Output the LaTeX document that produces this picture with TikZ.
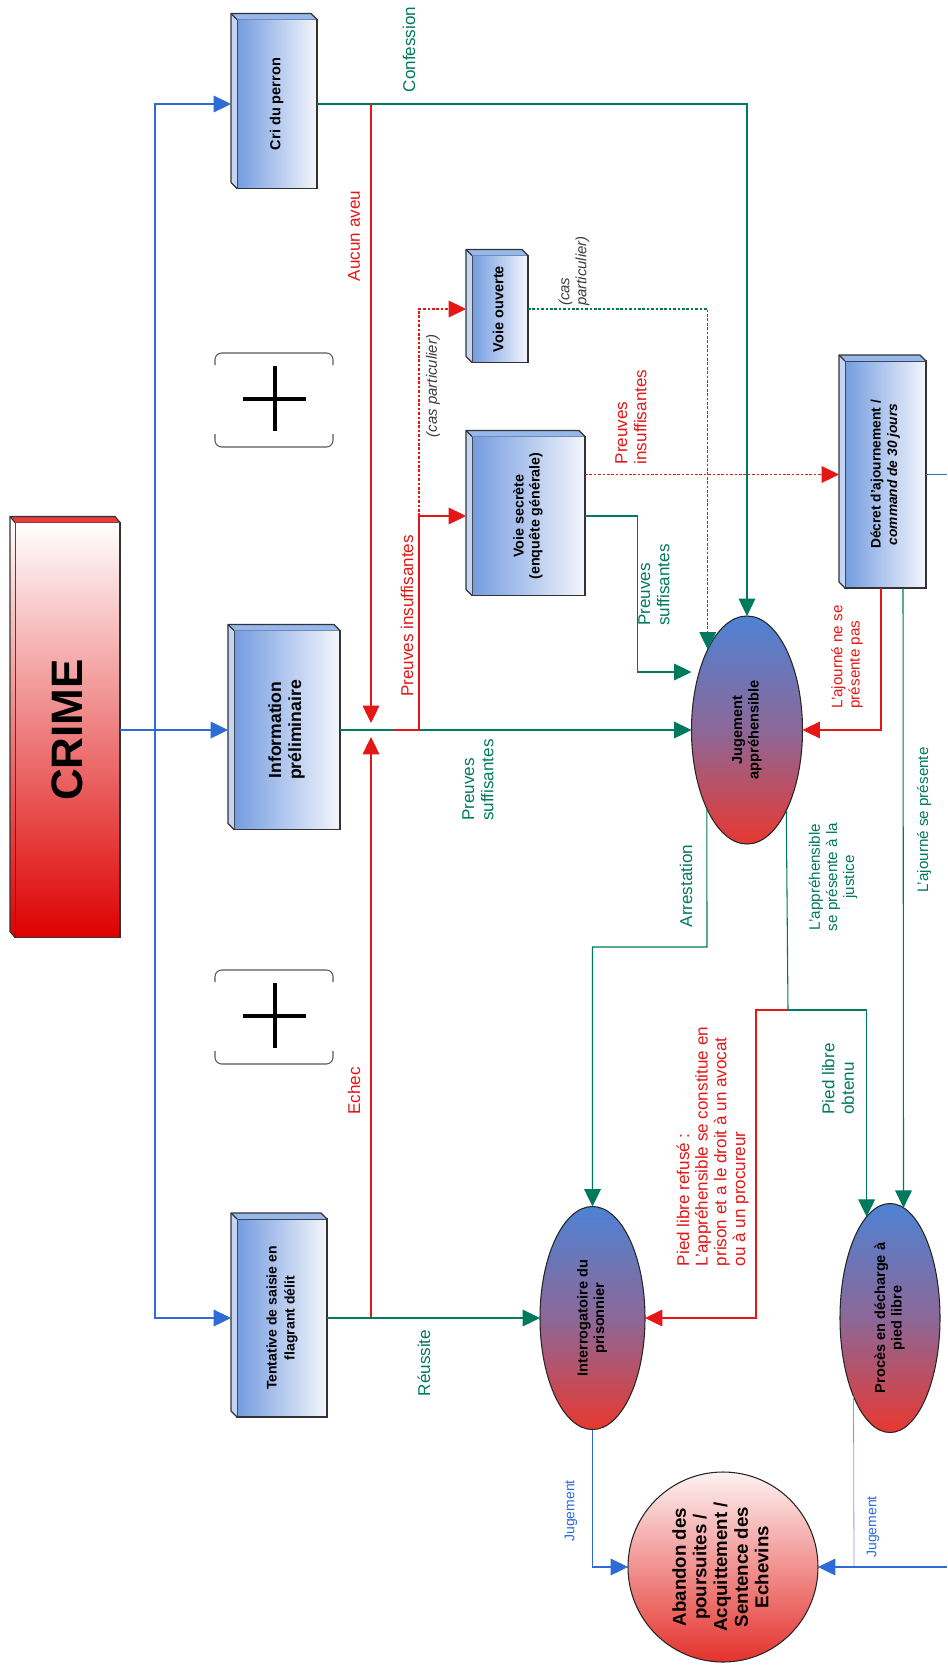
\documentclass[tikz,border=0pt]{standalone}
\usepackage{graphicx}
\usepackage{fontspec}
\setmainfont{Liberation Sans}
\usetikzlibrary{arrows.meta,shapes.geometric,calc}
\definecolor{cgreen}{RGB}{0,122,92}
\definecolor{cred}{RGB}{228,22,22}
\definecolor{cblue}{RGB}{45,108,212}
\definecolor{clblue}{RGB}{120,160,230}
\definecolor{cgray}{RGB}{60,60,60}
\definecolor{boxl}{RGB}{116,156,224}
\definecolor{boxr}{RGB}{244,246,252}
\definecolor{depthtop}{RGB}{150,184,236}
\definecolor{depthleft}{RGB}{196,214,244}
\definecolor{elltop}{RGB}{78,130,212}
\definecolor{ellmid}{RGB}{140,104,152}
\definecolor{ellbot}{RGB}{232,56,48}
\definecolor{crimered}{RGB}{222,0,0}
\definecolor{crimetop}{RGB}{230,60,60}
\definecolor{circtop}{RGB}{253,242,242}
\definecolor{circbot}{RGB}{228,50,45}

\newcommand{\rtext}[1]{\rotatebox{90}{\begin{tabular}{@{}c@{}}#1\end{tabular}}}
\newcommand{\boxdepth}[1]{%
  \fill[depthleft] (#1.south west) -- ++(-6,-6) -- ($(#1.north west)+(-6,-6)$) -- (#1.north west) -- cycle;
  \fill[depthtop] (#1.north west) -- ++(-6,-6) -- ($(#1.north east)+(-6,-6)$) -- (#1.north east) -- cycle;
  \draw[boxborder] (#1.south west) -- ++(-6,-6) -- ($(#1.north west)+(-6,-6)$) -- ($(#1.north east)+(-6,-6)$) -- (#1.north east);
  \draw[boxborder] (#1.north west) -- ++(-6,-6);
}

\tikzset{
  boxborder/.style={draw=black!80, line width=0.9pt, line join=round},
  pbox/.style={rectangle, draw=black!80, line width=0.9pt, left color=boxl, right color=boxr, inner sep=0pt, outer sep=0pt, font=\fontsize{10.9}{12.5}\selectfont\bfseries},
  crimebox/.style={rectangle, draw=black!80, line width=0.9pt, top color=white, bottom color=crimered, inner sep=0pt, outer sep=0pt, font=\fontsize{33}{33}\selectfont\bfseries},
  pell/.style={ellipse, draw=black!85, line width=0.8pt, top color=elltop, bottom color=ellbot, middle color=ellmid, inner sep=0pt, outer sep=0pt, font=\fontsize{10.9}{12.5}\selectfont\bfseries},
  pcirc/.style={circle, draw=black!85, line width=0.8pt, top color=circtop, bottom color=circbot, inner sep=0pt, outer sep=0pt, font=\fontsize{14}{15.5}\selectfont\bfseries},
  lab/.style={rotate=90, inner sep=0pt, align=left, font=\fontsize{12.8}{14.5}\selectfont},
  slab/.style={rotate=90, inner sep=0pt, align=left, font=\fontsize{11.4}{12.8}\selectfont},
  jlab/.style={rotate=90, inner sep=0pt, font=\fontsize{10.5}{12}\selectfont, text=cblue},
  clab/.style={rotate=90, inner sep=0pt, align=left, font=\fontsize{11.2}{12.8}\selectfont\itshape, text=cgray},
  gl/.style={draw=cgreen, line width=0.8pt},
  rl/.style={draw=cred, line width=0.8pt},
  bl/.style={draw=cblue, line width=0.8pt},
  arr/.style={-{Triangle[length=13pt,width=12.5pt]}},
  dsh/.style={dash pattern=on 2pt off 1.3pt},
  brk/.style={draw=black!65, line width=0.8pt, rounded corners=5pt},
  plusbar/.style={draw=black, line width=3pt},
}

\begin{document}
\begin{tikzpicture}[x=0.75pt,y=-0.75pt]
\useasboundingbox (0,0) rectangle (947,1667);
\fill[white] (0,0) rectangle (947,1667);

% ( + ) groups
\foreach \py in {399,1016} {
  \draw[brk] (215,\py-34) -- (215,\py-46) -- (333,\py-46) -- (333,\py-34);
  \draw[brk] (215,\py+35) -- (215,\py+48) -- (333,\py+48) -- (333,\py+35);
  \draw[plusbar] (243,\py) -- (306,\py);
  \draw[plusbar] (275,\py-33) -- (275,\py+32);
}

% nodes
\node[crimebox, minimum width=78.75pt, minimum height=311.25pt] (crime) at (67.5,730) {\rotatebox{90}{CRIME}};
\shade[top color=white, bottom color=crimered] (crime.south west) -- ++(-5,-6) -- ($(crime.north west)+(-5,-6)$) -- (crime.north west) -- cycle;
\fill[crimetop] (crime.north west) -- ++(-5,-6) -- ($(crime.north east)+(-5,-6)$) -- (crime.north east) -- cycle;
\draw[boxborder] (crime.south west) -- ++(-5,-6) -- ($(crime.north west)+(-5,-6)$) -- ($(crime.north east)+(-5,-6)$) -- (crime.north east);
\draw[boxborder] (crime.north west) -- ++(-5,-6);

\node[pbox, minimum width=60pt, minimum height=126.75pt] (cri) at (277,104) {\rtext{Cri du perron}};
\boxdepth{cri}
\node[pbox, minimum width=79.5pt, minimum height=149.25pt, font=\fontsize{13.2}{15}\selectfont\bfseries] (info) at (287,730) {\rtext{Information\\préliminaire}};
\boxdepth{info}
\node[pbox, minimum width=67.5pt, minimum height=148.5pt, font=\fontsize{10.5}{13.5}\selectfont\bfseries] (tent) at (282,1318) {\rtext{Tentative de saisie en\\flagrant délit}};
\boxdepth{tent}
\node[pbox, minimum width=42pt, minimum height=80.25pt] (vouv) at (500,309) {\rtext{Voie ouverte}};
\boxdepth{vouv}
\node[pbox, minimum width=84.75pt, minimum height=119.25pt, font=\fontsize{10.7}{12}\selectfont\bfseries] (vsec) at (528.5,516) {\rtext{Voie secrète\\(enquête générale)}};
\boxdepth{vsec}
\node[pbox, minimum width=60.75pt, minimum height=170.25pt, font=\fontsize{10.3}{12.5}\selectfont\bfseries] (decret) at (885.5,474.5) {\rtext{Décret d'ajournement /\\\textit{command de 30 jours}}};
\boxdepth{decret}

\node[pell, minimum width=83.25pt, minimum height=171pt] (jug) at (747,730) {\rtext{Jugement\\appréhensible}};
\node[pell, minimum width=78.75pt, minimum height=167.25pt] (interr) at (592.5,1318) {\rtext{Interrogatoire du\\prisonnier}};
\node[pell, minimum width=75pt, minimum height=171.75pt] (proces) at (890,1318) {\rtext{Procès en décharge à\\pied libre}};
\node[pcirc, minimum size=142.5pt] (abandon) at (723,1567) {\rtext{Abandon des\\poursuites /\\Acquittement /\\Sentence des\\Echevins}};

% coordinates
\coordinate (tk) at (155,730);
\coordinate (j1) at (371,730);
\coordinate (rs) at (393,730);
\coordinate (rv) at (419,730);
\coordinate (vsr) at (585,474.5);
\coordinate (vsb) at (637.5,672);
\coordinate (dR) at (881,588);
\coordinate (dG) at (903,588);
\coordinate (edgeD) at (947,474.5);
\coordinate (ar) at (707,947);
\coordinate (jn) at (788,1010);
\coordinate (rj) at (756,1010);
\coordinate (pj) at (854,1567);
\coordinate (edgeR) at (947,1567);

% blue trunk
\draw[bl] (crime.east) -- (tk);
\draw[bl,arr] (tk) |- ([xshift=-4.5pt]cri.west);
\draw[bl,arr] (tk) -- ([xshift=-4.5pt]info.west);
\draw[bl,arr] (tk) |- ([xshift=-4.5pt]tent.west);

% confession / aucun aveu / echec
\draw[gl,arr] (cri.east) -| (jug.north);
\draw[rl,arr] (cri.east -| j1) -- ([yshift=5.25pt]j1);
\draw[rl,arr] (tent.east -| j1) -- ([yshift=-5.25pt]j1);

% information preliminaire
\draw[gl,arr] (info.east) -- (jug.west);
\draw[rl] (rs) -- (rv);
\draw[rl,arr] (rv) |- ([xshift=-4.5pt]vsec.west);
\draw[rl,dsh,arr] (rv |- vsec.west) |- ([xshift=-4.5pt]vouv.west);

% voies
\draw[rl,dsh,arr] (vsr) -- ([xshift=-4.5pt]decret.west);
\draw[gl,arr] (vsec.east) -| (vsb) -- (jug.west |- vsb);
\draw[gl,dsh,arr] (vouv.east) -| (jug.116.9);

% decret
\draw[rl,arr] (dR) |- (jug.east);
\draw[gl,arr] (dG) -- (proces.83.3);
\draw[bl] (decret.east) -- (edgeD);

% from jugement apprehensible
\draw[gl,arr] (jug.243.1) -- (ar) -| (interr.north);
\draw[gl] (jug.296.9) -- (jn);
\draw[gl,arr] (jn) -| (proces.103.45);
\draw[rl,arr] (jn) -- (rj) |- (interr.east);

% tentative
\draw[gl,arr] (tent.east) -- (interr.west);

% jugement final
\draw[bl,arr] (interr.south) |- (abandon.west);
\draw[draw=clblue, line width=0.6pt] (proces.245.6) -- (pj);
\draw[bl,arr] (edgeR) -- (abandon.east);

% labels
\node[lab, text=cgreen] (lconf) at (409,49.5) {Confession};
\node[lab, text=cred] (laucun) at (354,236) {Aucun aveu};
\node[lab, text=cred] (lechec) at (354,1091) {Echec};
\node[lab, text=cred] (lpins) at (407,616) {Preuves insuffisantes};
\node[clab] (lcas1) at (433,386) {(cas particulier)};
\node[clab] (lcas2) at (574,271) {(cas\\particulier)};
\node[lab, text=cred] (lpins2) at (631,417) {Preuves\\insuffisantes};
\node[lab, text=cgreen] (lpsuf2) at (654,585) {Preuves\\suffisantes};
\node[lab, text=cgreen] (lpsuf) at (478,780) {Preuves\\suffisantes};
\node[lab, text=cgreen] (larr) at (686,886) {Arrestation};
\node[slab, text=cgreen, align=center] (lappr) at (833,877) {L'appréhensible\\se présente à la\\justice};
\node[slab, text=cred] (lajnp) at (847,657) {L'ajourné ne se\\présente pas};
\node[slab, text=cgreen] (lajp) at (924,820) {L'ajourné se présente};
\node[lab, text=cgreen] (lpl) at (838,1079) {Pied libre\\obtenu};
\node[lab, text=cred, font=\fontsize{12.8}{14}\selectfont] (lplr) at (712.5,1146.5) {Pied libre refusé :\\L'appréhensible se constitue en\\prison et a le droit à un avocat\\ou à un procureur};
\node[lab, text=cgreen] (lreus) at (424,1363) {Réussite};
\node[jlab] (ljug1) at (571,1511) {Jugement};
\node[jlab] (ljug2) at (873,1527) {Jugement};
\end{tikzpicture}
\end{document}
